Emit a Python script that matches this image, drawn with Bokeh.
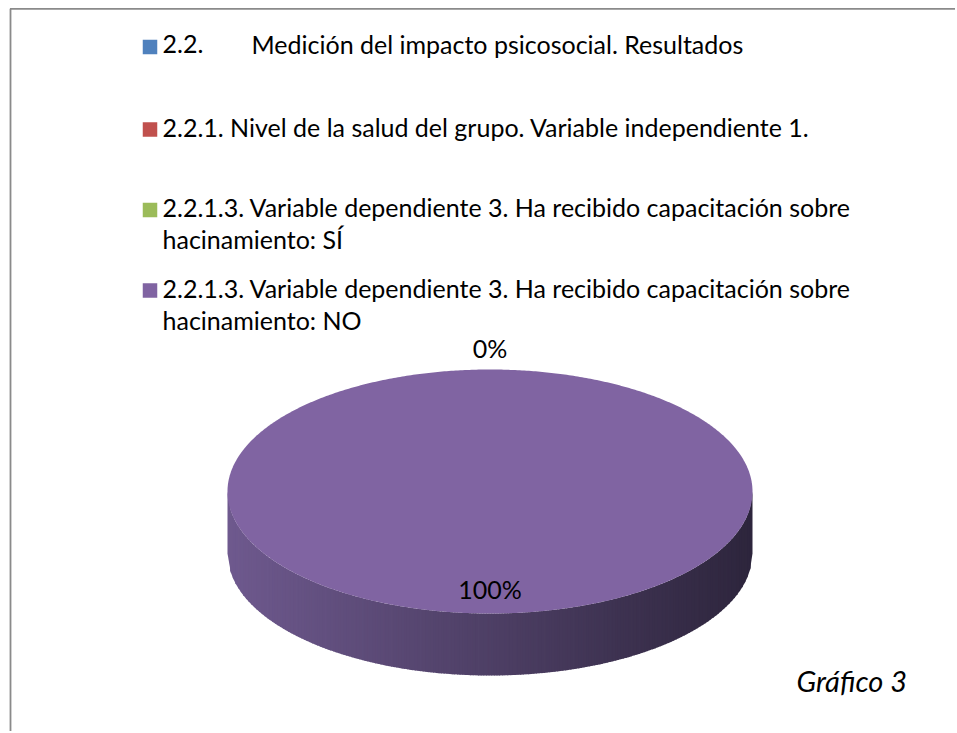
import math
import textwrap
import numpy as np
from bokeh.plotting import figure
from bokeh.models import Range1d
from bokeh.core.properties import value
from bokeh.embed import file_html
from bokeh.resources import INLINE

# ---------------- data ----------------
series_labels = [
    "2.2.\tMedición del impacto  psicosocial. Resultados",
    "2.2.1. Nivel de la salud del grupo. Variable independiente 1.",
    "2.2.1.3. Variable dependiente 3. Ha recibido capacitación sobre hacinamiento: SÍ",
    "2.2.1.3. Variable dependiente 3. Ha recibido capacitación sobre hacinamiento: NO",
]
series_colors = ["#4F81BD", "#C0504D", "#9BBB59", "#8064A2"]
series_values = [float("nan"), float("nan"), 0.0, 100.0]
caption = "Gráfico 3"

# ---------------- layout (pixel-like coordinates, y downwards) ----------------
W, H = 955, 731
FONT = value("Lato")
FS = "25px"

p = figure(width=W, height=H, output_backend="svg", toolbar_location=None,
           x_range=Range1d(0, W), y_range=Range1d(H, 0),
           x_axis_type=None, y_axis_type=None, min_border=0,
           background_fill_color="white", border_fill_color="white")
p.grid.visible = False
p.outline_line_color = None

# chart border (top and left visible; the rest is cropped)
p.line(x=[9.5, W], y=[8.3, 8.3], line_color="#8a8a8a", line_width=1.7)
p.line(x=[10, 10], y=[8.3, H], line_color="#8a8a8a", line_width=1.8)

# ---------------- legend ----------------
leg_sq_x = 149.5
leg_txt_x = 162
leg_ys = [46.5, 129, 209.5, 290]
line_gap = 32
tab_x = 251
for i, (lab, col) in enumerate(zip(series_labels, series_colors)):
    yc = leg_ys[i]
    ty = yc - 3
    p.rect(x=[leg_sq_x], y=[yc], width=14.5, height=14.5, fill_color=col, line_color=None)
    if "\t" in lab:
        a, b = lab.split("\t")
        p.text(x=[leg_txt_x], y=[ty], text=[a], text_font=FONT, text_font_size=FS,
               text_baseline="middle", text_color="black")
        p.text(x=[tab_x], y=[ty], text=[b], text_font=FONT, text_font_size=FS,
               text_baseline="middle", text_color="black")
    else:
        for k, ln in enumerate(textwrap.wrap(lab, 63)):
            p.text(x=[leg_txt_x], y=[ty + k * line_gap], text=[ln], text_font=FONT,
                   text_font_size=FS, text_baseline="middle", text_color="black")

# ---------------- 3D pie ----------------
cx, cy, rx, ry, depth = 489.5, 491.0, 262.5, 122.0, 62.0
vals = np.nan_to_num(np.array(series_values, dtype=float))
total = vals.sum()
fracs = vals / total
cum = np.concatenate([[0.0], np.cumsum(fracs)])

left_rgb = np.array([110, 89, 142])
right_rgb = np.array([45, 37, 60])

def shade(xm):
    t = (xm - (cx - rx)) / (2 * rx)
    t = min(max(t, 0.0), 1.0)
    c = left_rgb + (right_rgb - left_rgb) * t
    return "#%02x%02x%02x" % tuple(int(round(v)) for v in c)

# side walls (visible lower half of each slice arc)
for i in range(len(vals)):
    if fracs[i] <= 0:
        continue
    a0 = 90 - 360 * cum[i]
    a1 = 90 - 360 * cum[i + 1]
    th = np.radians(np.linspace(a1, a0, 2000))
    th = th[np.sin(th) <= 0]
    if len(th) < 2:
        continue
    xa = cx + rx * np.cos(th)
    ya = cy - ry * np.sin(th)
    order = np.argsort(xa)
    xa, ya = xa[order], ya[order]
    xu = np.linspace(xa.min(), xa.max(), 200)
    yu = np.interp(xu, xa, ya)
    px, py, pc = [], [], []
    for k in range(len(xu) - 1):
        x0, x1 = xu[k], xu[k + 1]
        y0, y1 = yu[k], yu[k + 1]
        x1e = min(x1 + 0.8, xa.max())
        y1e = np.interp(x1e, xa, ya)
        px.append([x0, x1e, x1e, x0])
        py.append([y0, y1e, y1e + depth, y0 + depth])
        pc.append(shade((x0 + x1) / 2))
    p.patches(xs=px, ys=py, fill_color=pc, line_color=None)

# top faces
for i in range(len(vals)):
    if fracs[i] <= 0:
        continue
    a0 = 90 - 360 * cum[i]
    a1 = 90 - 360 * cum[i + 1]
    th = np.radians(np.linspace(a0, a1, 720))
    xs = list(cx + rx * np.cos(th))
    ys = list(cy - ry * np.sin(th))
    if fracs[i] < 1:
        xs = [cx] + xs
        ys = [cy] + ys
    p.patch(x=xs, y=ys, fill_color=series_colors[i], line_color=None)

# data labels
for i in range(len(series_values)):
    if math.isnan(series_values[i]):
        continue
    mid = math.radians(90 - 360 * (cum[i] + cum[i + 1]) / 2)
    pct = "%d%%" % round(100 * fracs[i])
    if fracs[i] > 0:
        lx = cx + 0.82 * rx * math.cos(mid)
        ly = cy - 0.82 * ry * math.sin(mid)
    else:
        lx = cx + (rx + 19) * math.cos(mid)
        ly = cy - (ry + 19) * math.sin(mid)
    p.text(x=[lx], y=[ly - 3], text=[pct], text_font=FONT, text_font_size=FS,
           text_align="center", text_baseline="middle", text_color="black")

# caption
p.text(x=[796], y=[680], text=[caption], text_font=FONT, text_font_size="29px",
       text_font_style="italic", text_baseline="middle", text_color="black")

open("out.html", "w").write(file_html(p, INLINE))
